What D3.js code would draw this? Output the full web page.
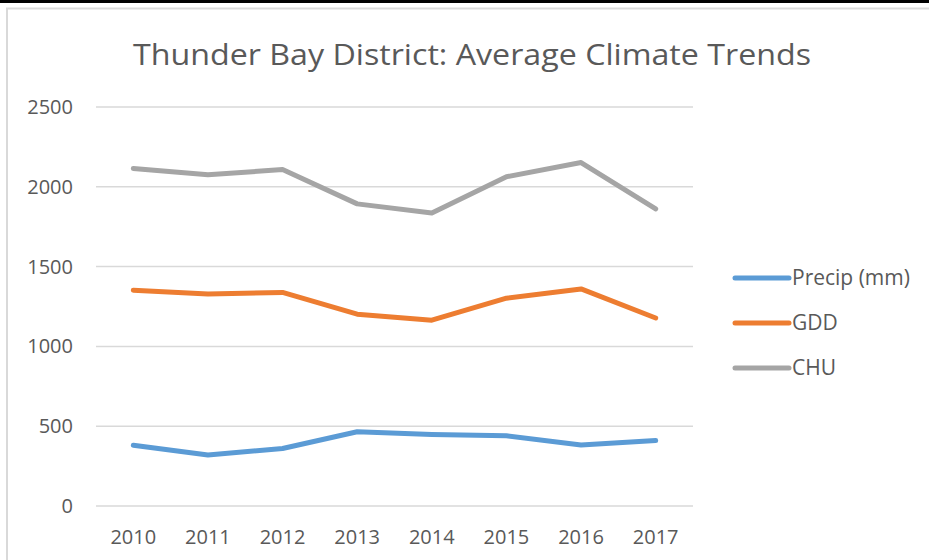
<!DOCTYPE html>
<html>
<head>
<meta charset="utf-8">
<script src="https://cdn.jsdelivr.net/npm/d3@7"></script>
<style>
  body { margin: 0; background: #fff; }
  svg { display: block; font-family: "Open Sans", "Noto Sans", sans-serif; }
</style>
</head>
<body>
<div id="chart"></div>
<script>
// Chart data
const years = ["2010", "2011", "2012", "2013", "2014", "2015", "2016", "2017"];
const precip = [380, 320, 360, 465, 448, 440, 382, 410];
const gdd = [1352, 1328, 1338, 1202, 1164, 1302, 1360, 1178];
const chu = [2115, 2075, 2108, 1893, 1836, 2063, 2152, 1862];
const yTicks = [0, 500, 1000, 1500, 2000, 2500];
const seriesNames = ["Precip (mm)", "GDD", "CHU"];
const seriesColors = ["#5B9BD5", "#ED7D31", "#A5A5A5"];

const width = 929, height = 560;
const margin = { left: 96, right: 236, top: 107, bottom: 54 };

const svg = d3.select("#chart").append("svg")
    .attr("width", width)
    .attr("height", height);

// Frame
svg.append("rect").attr("x", 0).attr("y", 0).attr("width", width).attr("height", 3).attr("fill", "#000");
svg.append("path")
    .attr("d", `M7,${height} V8.5 H${width}`)
    .attr("fill", "none")
    .attr("stroke", "#d9d9d9")
    .attr("stroke-width", 2);

// Title
svg.append("text")
    .attr("x", 472)
    .attr("y", 65)
    .attr("text-anchor", "middle")
    .attr("fill", "#595959")
    .style("font-size", "30px")
    .attr("textLength", 678)
    .attr("lengthAdjust", "spacingAndGlyphs")
    .text("Thunder Bay District: Average Climate Trends");

const x = d3.scaleBand()
    .domain(years)
    .range([margin.left, width - margin.right]);

const y = d3.scaleLinear()
    .domain([0, 2500])
    .range([height - margin.bottom, margin.top]);

// Gridlines
svg.append("g")
    .selectAll("line")
    .data(yTicks)
    .enter()
    .append("line")
    .attr("x1", margin.left)
    .attr("x2", width - margin.right)
    .attr("y1", d => y(d))
    .attr("y2", d => y(d))
    .attr("stroke", "#d9d9d9")
    .attr("stroke-width", 1.5);

// Y axis labels
const yAxis = svg.append("g")
    .attr("transform", `translate(${margin.left - 23},0)`)
    .call(d3.axisLeft(y).tickValues(yTicks).tickFormat(d3.format("d")).tickSize(0).tickPadding(0));
yAxis.select(".domain").remove();
yAxis.selectAll("text")
    .attr("fill", "#595959")
    .style("font-size", "20px")
    .style("font-family", "'Open Sans', sans-serif");

// X axis labels
const xAxis = svg.append("g")
    .attr("transform", `translate(0,${height - margin.bottom + 18})`)
    .call(d3.axisBottom(x).tickSize(0).tickPadding(6));
xAxis.select(".domain").remove();
xAxis.selectAll("text")
    .attr("fill", "#595959")
    .style("font-size", "20px")
    .style("font-family", "'Open Sans', sans-serif");

// Lines
const series = [precip, gdd, chu];
const line = d3.line()
    .x((d, i) => x(years[i]) + x.bandwidth() / 2)
    .y(d => y(d));

svg.append("g")
    .selectAll("path")
    .data(series)
    .enter()
    .append("path")
    .attr("d", d => line(d))
    .attr("fill", "none")
    .attr("stroke", (d, i) => seriesColors[i])
    .attr("stroke-width", 5)
    .attr("stroke-linecap", "round")
    .attr("stroke-linejoin", "round");

// Legend
const legend = svg.append("g")
    .selectAll("g")
    .data(seriesNames)
    .enter()
    .append("g")
    .attr("transform", (d, i) => `translate(735,${278 + i * 45})`);

legend.append("line")
    .attr("x1", 0)
    .attr("x2", 54)
    .attr("stroke", (d, i) => seriesColors[i])
    .attr("stroke-width", 5)
    .attr("stroke-linecap", "round");

legend.append("text")
    .attr("x", 57)
    .attr("dy", "0.35em")
    .attr("fill", "#595959")
    .style("font-size", "21px")
    .text(d => d);
</script>
</body>
</html>
